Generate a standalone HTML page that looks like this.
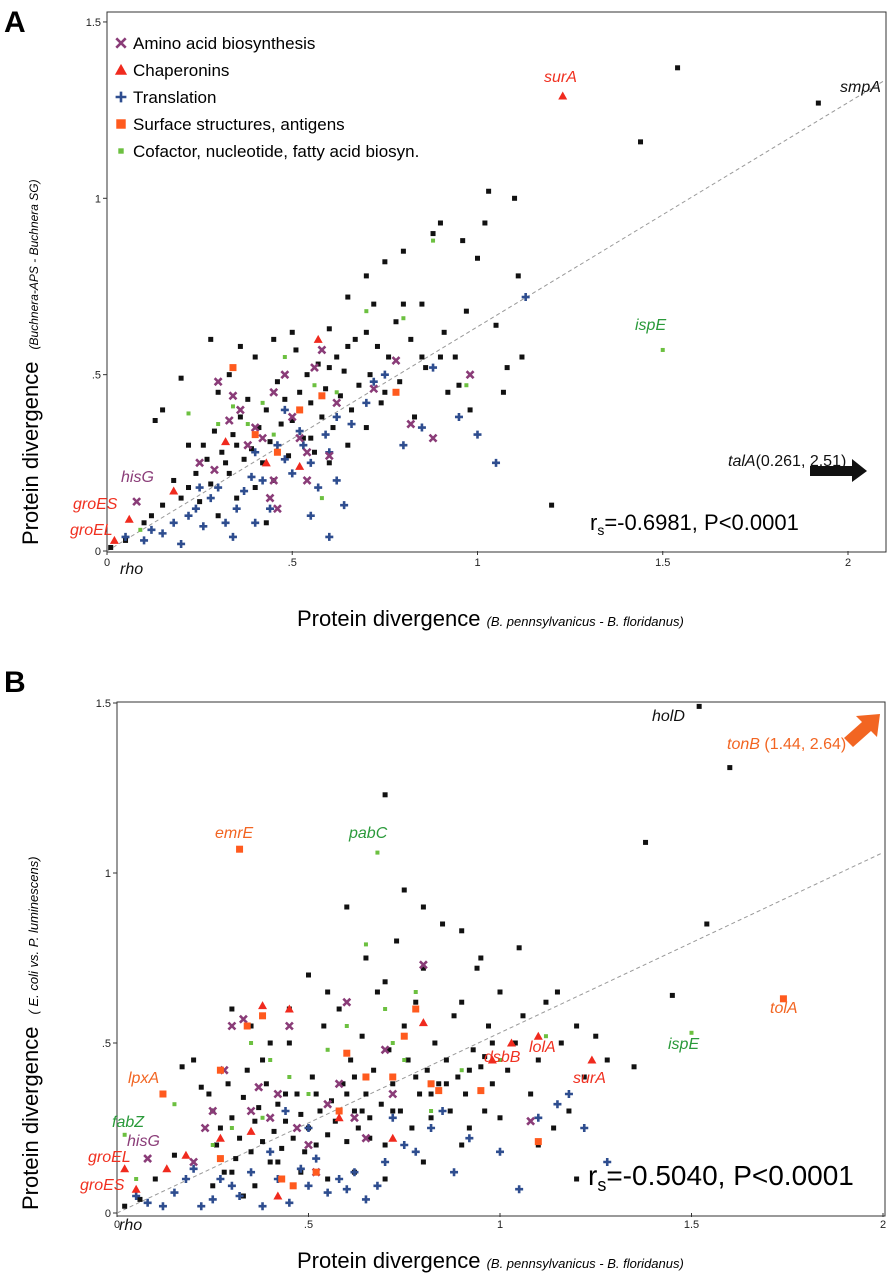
<!DOCTYPE html>
<html><head><meta charset="utf-8">
<style>
body{margin:0;background:#fff;width:890px;height:1280px;overflow:hidden}
svg{font-family:"Liberation Sans",sans-serif;display:block}
.t{font-size:11px;fill:#222}
</style></head>
<body>
<svg id="chart" width="890" height="1280">
<text x="4" y="32" font-size="30" font-weight="bold">A</text>
<text x="4" y="692" font-size="30" font-weight="bold">B</text>
<rect x="107" y="12" width="779" height="540" fill="none" stroke="#333" stroke-width="1"/>
<rect x="117" y="702" width="768" height="514" fill="none" stroke="#333" stroke-width="1"/>
<g id="gA"></g>
<g id="gB"></g>

<g font-size="17">
<text x="133" y="49">Amino acid biosynthesis</text>
<text x="133" y="76">Chaperonins</text>
<text x="133" y="103">Translation</text>
<text x="133" y="130">Surface structures, antigens</text>
<text x="133" y="157">Cofactor, nucleotide, fatty acid biosyn.</text>
</g>
<g id="legMarks"></g>

<g font-style="italic" font-size="16">
<text x="544" y="82" fill="#f03020">surA</text>
<text x="840" y="92" fill="#111">smpA</text>
<text x="635" y="330" fill="#2a9a3a">ispE</text>
<text x="121" y="482" fill="#8a3c78">hisG</text>
<text x="73" y="509" fill="#f03020">groES</text>
<text x="70" y="535" fill="#f03020">groEL</text>
<text x="120" y="574" fill="#111">rho</text>
<text x="728" y="466" fill="#111">talA<tspan font-style="normal">(0.261, 2.51)</tspan></text>
</g>
<path d="M810 466 L852 466 L852 459 L867 471 L852 482 L852 476 L810 476 Z" fill="#111"/>
<text x="590" y="530" font-size="22">r<tspan font-size="14" dy="5">s</tspan><tspan dy="-5">=-0.6981, P&lt;0.0001</tspan></text>

<g font-style="italic" font-size="16">
<text x="652" y="721" fill="#111">holD</text>
<text x="727" y="749" fill="#f26522">tonB <tspan font-style="normal">(1.44, 2.64)</tspan></text>
<text x="215" y="838" fill="#f26522">emrE</text>
<text x="349" y="838" fill="#2a9a3a">pabC</text>
<text x="770" y="1013" fill="#f26522">tolA</text>
<text x="668" y="1049" fill="#2a9a3a">ispE</text>
<text x="529" y="1052" fill="#f03020">lolA</text>
<text x="484" y="1062" fill="#f03020">dsbB</text>
<text x="573" y="1083" fill="#f03020">surA</text>
<text x="128" y="1083" fill="#f26522">lpxA</text>
<text x="112" y="1127" fill="#2a9a3a">fabZ</text>
<text x="127" y="1146" fill="#8a3c78">hisG</text>
<text x="88" y="1162" fill="#f03020">groEL</text>
<text x="80" y="1190" fill="#f03020">groES</text>
<text x="119" y="1230" fill="#111">rho</text>
</g>
<path d="M844 738 L862 722 L856 716 L880 714 L877 737 L871 731 L853 747 Z" fill="#f26522"/>
<text x="588" y="1185" font-size="28">r<tspan font-size="18" dy="6">s</tspan><tspan dy="-6">=-0.5040, P&lt;0.0001</tspan></text>

<g>
<text x="297" y="626" font-size="22">Protein divergence <tspan font-size="13" font-style="italic">(B. pennsylvanicus - B. floridanus)</tspan></text>
</g>
<g>
<text x="297" y="1268" font-size="22">Protein divergence <tspan font-size="13" font-style="italic">(B. pennsylvanicus - B. floridanus)</tspan></text>
</g>
<text transform="translate(38,545) rotate(-90)" font-size="22">Protein divergence <tspan font-size="12" font-style="italic" dx="6">(Buchnera-APS - Buchnera SG)</tspan></text>
<text transform="translate(38,1210) rotate(-90)" font-size="22">Protein divergence <tspan font-size="13" font-style="italic" dx="6">( E. coli vs. P. luminescens)</tspan></text>
</svg>
<script>
const NS="http://www.w3.org/2000/svg";
// ---- Panel A data ----
const aTicksX=[0,0.5,1,1.5,2];
const aTickLabelsX=["0",".5","1","1.5","2"];
const aTicksY=[0,0.5,1,1.5];
const aTickLabelsY=["0",".5","1","1.5"];
const aTrend=[[0,0],[2.1,1.335]];
const aBlack=[[0.01,0.01],[0.05,0.03],[0.1,0.08],[0.12,0.1],[0.15,0.13],[0.2,0.49],[0.15,0.40],[0.13,0.37],[0.18,0.2],[0.2,0.15],[0.22,0.18],[0.24,0.22],[0.26,0.3],[0.27,0.26],[0.28,0.19],[0.29,0.34],[0.3,0.45],[0.31,0.28],[0.32,0.25],[0.33,0.22],[0.34,0.33],[0.35,0.3],[0.36,0.38],[0.37,0.26],[0.38,0.43],[0.39,0.29],[0.4,0.55],[0.41,0.35],[0.42,0.25],[0.43,0.4],[0.44,0.31],[0.45,0.2],[0.46,0.48],[0.47,0.36],[0.48,0.43],[0.49,0.27],[0.5,0.37],[0.51,0.57],[0.52,0.45],[0.53,0.32],[0.54,0.5],[0.55,0.42],[0.56,0.28],[0.57,0.53],[0.58,0.38],[0.59,0.46],[0.6,0.63],[0.61,0.35],[0.62,0.55],[0.63,0.44],[0.64,0.51],[0.65,0.72],[0.66,0.4],[0.67,0.6],[0.68,0.47],[0.7,0.78],[0.71,0.5],[0.72,0.7],[0.73,0.58],[0.74,0.42],[0.75,0.82],[0.76,0.55],[0.78,0.65],[0.79,0.48],[0.8,0.85],[0.82,0.6],[0.83,0.38],[0.85,0.7],[0.86,0.52],[0.88,0.9],[0.9,0.93],[0.91,0.62],[0.92,0.45],[0.94,0.55],[0.96,0.88],[0.97,0.68],[0.98,0.4],[1.0,0.83],[1.02,0.93],[1.03,1.02],[1.05,0.64],[1.07,0.45],[1.1,1.0],[1.11,0.78],[1.12,0.55],[1.2,0.13],[1.44,1.16],[1.54,1.37],[1.92,1.27],[0.28,0.6],[0.36,0.58],[0.45,0.6],[0.5,0.62],[0.6,0.52],[0.65,0.58],[0.7,0.62],[0.8,0.7],[0.85,0.55],[1.08,0.52],[0.22,0.3],[0.25,0.14],[0.3,0.1],[0.35,0.15],[0.4,0.18],[0.43,0.08],[0.33,0.5],[0.55,0.32],[0.6,0.25],[0.65,0.3],[0.7,0.35],[0.75,0.45],[0.9,0.55],[0.95,0.47]];
const aPurple=[[0.08,0.14],[0.25,0.25],[0.3,0.48],[0.34,0.44],[0.36,0.4],[0.38,0.3],[0.4,0.35],[0.42,0.32],[0.45,0.45],[0.48,0.5],[0.5,0.38],[0.52,0.32],[0.54,0.28],[0.56,0.52],[0.58,0.57],[0.6,0.27],[0.62,0.42],[0.72,0.46],[0.78,0.54],[0.82,0.36],[0.88,0.32],[0.98,0.5],[0.45,0.2],[0.33,0.37],[0.46,0.12],[0.54,0.2],[0.29,0.23],[0.44,0.15]];
const aRed=[[0.02,0.03],[0.06,0.09],[0.18,0.17],[0.32,0.31],[0.52,0.24],[0.57,0.6],[0.43,0.25],[1.23,1.29]];
const aBlue=[[0.05,0.04],[0.1,0.03],[0.12,0.06],[0.15,0.05],[0.18,0.08],[0.2,0.02],[0.22,0.1],[0.24,0.12],[0.26,0.07],[0.28,0.15],[0.3,0.18],[0.32,0.08],[0.34,0.04],[0.35,0.12],[0.37,0.17],[0.39,0.21],[0.4,0.28],[0.42,0.2],[0.44,0.12],[0.46,0.3],[0.48,0.26],[0.5,0.22],[0.52,0.34],[0.53,0.3],[0.55,0.25],[0.57,0.18],[0.59,0.33],[0.6,0.28],[0.62,0.2],[0.64,0.13],[0.66,0.36],[0.7,0.42],[0.72,0.48],[0.75,0.5],[0.8,0.3],[0.85,0.35],[0.88,0.52],[0.95,0.38],[1.0,0.33],[1.05,0.25],[1.13,0.72],[0.6,0.04],[0.55,0.1],[0.4,0.08],[0.25,0.18],[0.48,0.4],[0.62,0.38]];
const aOrange=[[0.34,0.52],[0.4,0.33],[0.46,0.28],[0.52,0.4],[0.58,0.44],[0.78,0.45]];
const aGreen=[[0.09,0.06],[0.22,0.39],[0.3,0.36],[0.34,0.41],[0.38,0.36],[0.42,0.42],[0.48,0.55],[0.56,0.47],[0.62,0.45],[0.7,0.68],[0.8,0.66],[0.88,0.88],[0.97,0.47],[1.5,0.57],[0.58,0.15],[0.45,0.33]];
// ---- Panel B data ----
const bTicksX=[0,0.5,1,1.5,2];
const bTickLabelsX=["0",".5","1","1.5","2"];
const bTicksY=[0,0.5,1,1.5];
const bTickLabelsY=["0",".5","1","1.5"];
const bTrend=[[0,0],[2,1.06]];
const bBlack=[[0.02,0.02],[0.06,0.04],[0.1,0.1],[0.15,0.17],[0.17,0.43],[0.2,0.45],[0.22,0.37],[0.24,0.35],[0.25,0.3],[0.26,0.2],[0.27,0.25],[0.28,0.12],[0.29,0.38],[0.3,0.28],[0.31,0.16],[0.32,0.22],[0.33,0.34],[0.34,0.42],[0.35,0.18],[0.36,0.27],[0.37,0.31],[0.38,0.21],[0.39,0.38],[0.4,0.15],[0.41,0.24],[0.42,0.32],[0.43,0.19],[0.44,0.27],[0.45,0.5],[0.46,0.22],[0.47,0.35],[0.48,0.29],[0.49,0.18],[0.5,0.25],[0.51,0.4],[0.52,0.2],[0.53,0.3],[0.54,0.55],[0.55,0.23],[0.56,0.33],[0.57,0.27],[0.58,0.6],[0.59,0.38],[0.6,0.21],[0.61,0.45],[0.62,0.3],[0.63,0.25],[0.64,0.52],[0.65,0.35],[0.66,0.28],[0.67,0.42],[0.68,0.65],[0.69,0.32],[0.7,0.2],[0.71,0.48],[0.72,0.38],[0.73,0.8],[0.74,0.3],[0.75,0.55],[0.76,0.45],[0.77,0.25],[0.78,0.62],[0.79,0.35],[0.8,0.72],[0.81,0.42],[0.82,0.28],[0.83,0.5],[0.84,0.38],[0.85,0.85],[0.86,0.45],[0.87,0.3],[0.88,0.58],[0.89,0.4],[0.9,0.62],[0.91,0.35],[0.92,0.25],[0.93,0.48],[0.94,0.72],[0.95,0.43],[0.96,0.3],[0.97,0.55],[0.98,0.38],[1.0,0.65],[1.02,0.42],[1.04,0.5],[1.06,0.58],[1.08,0.35],[1.1,0.45],[1.12,0.62],[1.14,0.25],[1.16,0.5],[1.18,0.3],[1.2,0.55],[1.22,0.4],[1.25,0.52],[1.28,0.45],[1.35,0.43],[1.38,1.09],[1.45,0.64],[1.52,1.49],[1.54,0.85],[1.6,1.31],[0.7,1.23],[0.6,0.9],[0.75,0.95],[0.8,0.9],[0.9,0.83],[0.95,0.75],[1.05,0.78],[1.15,0.65],[0.55,0.65],[0.45,0.6],[0.5,0.7],[0.65,0.75],[0.7,0.68],[0.3,0.6],[0.35,0.55],[0.4,0.5],[0.38,0.45],[0.42,0.15],[0.48,0.12],[0.55,0.1],[0.62,0.12],[0.7,0.1],[0.8,0.15],[0.9,0.2],[1.0,0.28],[1.1,0.2],[1.2,0.1],[0.25,0.08],[0.33,0.05],[0.3,0.12],[0.36,0.08],[0.44,0.35],[0.52,0.35],[0.58,0.3],[0.6,0.35],[0.62,0.4],[0.64,0.3],[0.66,0.22],[0.72,0.3],[0.78,0.4],[0.82,0.35],[0.86,0.38],[0.92,0.42],[0.96,0.46],[0.98,0.5]];
const bPurple=[[0.08,0.16],[0.2,0.15],[0.23,0.25],[0.25,0.3],[0.28,0.42],[0.3,0.55],[0.33,0.57],[0.35,0.3],[0.37,0.37],[0.4,0.28],[0.42,0.35],[0.45,0.55],[0.47,0.25],[0.5,0.2],[0.52,0.12],[0.55,0.32],[0.58,0.38],[0.6,0.62],[0.62,0.28],[0.65,0.22],[0.7,0.48],[0.8,0.73],[1.08,0.27],[0.72,0.35]];
const bRed=[[0.02,0.13],[0.05,0.07],[0.13,0.13],[0.18,0.17],[0.27,0.22],[0.35,0.24],[0.38,0.61],[0.42,0.05],[0.45,0.6],[0.58,0.28],[0.72,0.22],[0.8,0.56],[0.98,0.45],[1.03,0.5],[1.1,0.52],[1.24,0.45]];
const bOrange=[[0.12,0.35],[0.27,0.42],[0.32,1.07],[0.34,0.55],[0.38,0.58],[0.43,0.1],[0.46,0.08],[0.52,0.12],[0.58,0.3],[0.6,0.47],[0.65,0.4],[0.75,0.52],[0.78,0.6],[0.82,0.38],[0.84,0.36],[0.95,0.36],[1.1,0.21],[1.74,0.63],[0.72,0.4],[0.27,0.16]];
const bBlue=[[0.05,0.05],[0.08,0.03],[0.12,0.02],[0.15,0.06],[0.18,0.1],[0.2,0.13],[0.22,0.02],[0.25,0.04],[0.27,0.1],[0.3,0.08],[0.32,0.05],[0.35,0.12],[0.38,0.02],[0.4,0.18],[0.42,0.1],[0.45,0.03],[0.48,0.13],[0.5,0.08],[0.52,0.16],[0.55,0.06],[0.58,0.1],[0.6,0.07],[0.62,0.12],[0.65,0.04],[0.68,0.08],[0.7,0.15],[0.75,0.2],[0.78,0.18],[0.82,0.25],[0.88,0.12],[0.92,0.22],[1.0,0.18],[1.05,0.07],[1.1,0.28],[1.15,0.32],[1.18,0.35],[1.22,0.25],[1.28,0.15],[0.44,0.3],[0.5,0.25],[0.72,0.28],[0.85,0.3]];
const bGreen=[[0.02,0.23],[0.05,0.1],[0.15,0.32],[0.2,0.15],[0.25,0.2],[0.3,0.25],[0.35,0.5],[0.4,0.45],[0.45,0.4],[0.5,0.35],[0.55,0.48],[0.6,0.55],[0.65,0.79],[0.68,1.06],[0.7,0.6],[0.72,0.5],[0.78,0.65],[0.82,0.3],[0.9,0.42],[1.0,0.45],[1.12,0.52],[1.5,0.53],[0.75,0.45],[0.38,0.28]];

const C={black:"#111",purple:"#8a3c78",red:"#f02a1e",blue:"#2e4d8f",orange:"#ff5a1e",green:"#6cc040"};
function mk(tag,attrs,parent){const e=document.createElementNS(NS,tag);for(const k in attrs)e.setAttribute(k,attrs[k]);parent.appendChild(e);return e;}
function marker(g,type,x,y,s){
  s=s||1;
  let e;
  if(type==="black"){e=mk("rect",{x:x-2.5*s,y:y-2.5*s,width:5*s,height:5*s,fill:C.black},g);}
  else if(type==="green"){e=mk("rect",{x:x-2*s,y:y-2*s,width:4*s,height:4*s,fill:C.green},g);}
  else if(type==="orange"){e=mk("rect",{x:x-3.5*s,y:y-3.5*s,width:7*s,height:7*s,fill:C.orange},g);}
  else if(type==="red"){e=mk("path",{d:`M${x} ${y-4.5*s}L${x+4.5*s} ${y+3.5*s}L${x-4.5*s} ${y+3.5*s}Z`,fill:C.red},g);}
  else if(type==="purple"){e=mk("path",{d:`M${x-3.5*s} ${y-3.5*s}L${x+3.5*s} ${y+3.5*s}M${x+3.5*s} ${y-3.5*s}L${x-3.5*s} ${y+3.5*s}`,stroke:C.purple,"stroke-width":2.6},g);}
  else {e=mk("path",{d:`M${x-4*s} ${y}L${x+4*s} ${y}M${x} ${y-4*s}L${x} ${y+4*s}`,stroke:C.blue,"stroke-width":2.6},g);}
  return e;
}
function panel(g,sx,sy,x0,yB,tx,txl,ty,tyl,trend,series,name){
  const xs=v=>x0+v*sx, ys=v=>yB-v*sy;
  const l=mk("line",{x1:xs(trend[0][0]),y1:ys(trend[0][1]),x2:xs(trend[1][0]),y2:ys(trend[1][1]),stroke:"#999","stroke-width":1,"stroke-dasharray":"4,3"},g);
  
  
  tx.forEach((v,i)=>{
    mk("line",{x1:xs(v),y1:yB,x2:xs(v),y2:yB+4,stroke:"#333"},g);
    const tt=mk("text",{x:xs(v),y:yB+15,"text-anchor":"middle",class:"t"},g);tt.textContent=txl[i];
    
    
  });
  ty.forEach((v,i)=>{
    mk("line",{x1:x0-4,y1:ys(v),x2:x0,y2:ys(v),stroke:"#333"},g);
    const tt=mk("text",{x:x0-6,y:ys(v)+4,"text-anchor":"end",class:"t"},g);tt.textContent=tyl[i];
    
    
  });
  series.forEach(([type,pts])=>{pts.forEach(p=>{
    const e=marker(g,type,xs(p[0]),ys(p[1]));
    
    
  });});
}
const gA=document.getElementById("gA"),gB=document.getElementById("gB");
panel(gA,370.5,352.7,107,551,aTicksX,aTickLabelsX,aTicksY,aTickLabelsY,aTrend,
 [["black",aBlack],["green",aGreen],["blue",aBlue],["purple",aPurple],["orange",aOrange],["red",aRed]],"panel-a");
panel(gB,383,340,117,1213,bTicksX,bTickLabelsX,bTicksY,bTickLabelsY,bTrend,
 [["black",bBlack],["green",bGreen],["blue",bBlue],["purple",bPurple],["orange",bOrange],["red",bRed]],"panel-b");
const lg=document.getElementById("legMarks");
const legTypes=["purple","red","blue","orange","green"];
legTypes.forEach((t,i)=>{
  const e=marker(lg,t,121,43+i*27,1.35);
  
  
});
</script>
</body></html>
